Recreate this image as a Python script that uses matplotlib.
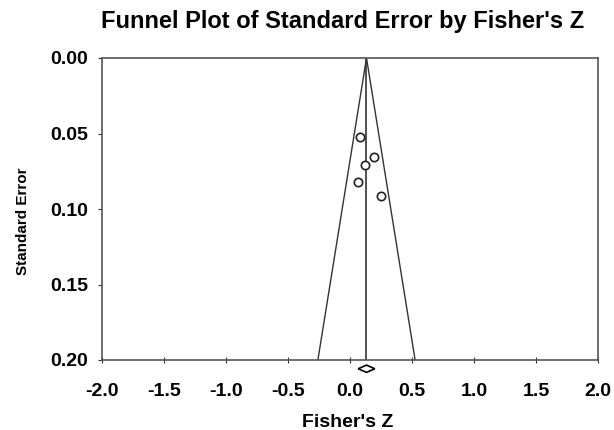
import matplotlib.pyplot as plt
from matplotlib.patches import Polygon

plt.rcParams['font.family'] = ['Liberation Sans', 'DejaVu Sans']

# study data
fisher_z = [0.08, 0.195, 0.117, 0.067, 0.253]
std_err = [0.0525, 0.0658, 0.0709, 0.0821, 0.0914]

mean_z = 0.133
ci_low, ci_high = 0.066, 0.20
se_max = 0.20

x_ticks = [-2.0, -1.5, -1.0, -0.5, 0.0, 0.5, 1.0, 1.5, 2.0]
y_ticks = [0.00, 0.05, 0.10, 0.15, 0.20]

fig = plt.figure(figsize=(6.14, 4.3), dpi=100)
ax = fig.add_axes([102/614, 1 - 360/430, 496/614, 302/430])

line_col = '#333333'
# funnel
ax.plot([mean_z - 1.96*se_max, mean_z, mean_z + 1.96*se_max], [se_max, 0, se_max],
        color=line_col, lw=1.0)
ax.plot([mean_z, mean_z], [0, se_max], color=line_col, lw=1.2)
ax.scatter(fisher_z, std_err, s=36, facecolors='white', edgecolors='#222222',
           linewidths=1.2, zorder=3)

# combined effect diamond below the axis
dh = 0.0024
yd = se_max + 0.0058
diamond = Polygon([[ci_low, yd], [mean_z, yd - dh], [ci_high, yd], [mean_z, yd + dh]],
                  closed=True, facecolor='white', edgecolor='black', lw=1.2,
                  clip_on=False, zorder=4)
ax.add_patch(diamond)

ax.set_xlim(-2.0, 2.0)
ax.set_ylim(se_max, 0)
ax.set_xticks(x_ticks)
ax.set_yticks(y_ticks)
ax.set_xticklabels(['%.1f' % v for v in x_ticks], fontsize=14, fontweight='bold')
ax.set_yticklabels(['%.2f' % v for v in y_ticks], fontsize=14, fontweight='bold')
ax.tick_params(axis='x', direction='inout', length=5, color=line_col, pad=14)
ax.tick_params(axis='y', direction='out', length=3, color=line_col, pad=7)
for sp in ax.spines.values():
    sp.set_color('#555555')
    sp.set_linewidth(1.2)

ax.set_xlabel("Fisher's Z", fontsize=14, fontweight='bold')
ax.xaxis.set_label_coords(0.4945, -0.179)
ax.set_ylabel('Standard Error', fontsize=11, fontweight='bold')
ax.yaxis.set_label_coords(-0.145, 0.4586)
fig.text(343/614, 1 - 28/430, "Funnel Plot of Standard Error by Fisher's Z",
         ha='center', va='baseline', fontsize=17, fontweight='bold')

fig.savefig('out.png', dpi=100)
